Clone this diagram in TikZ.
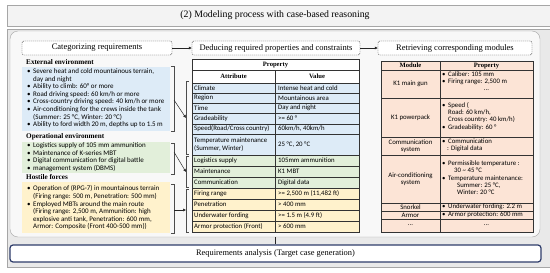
\documentclass[tikz,border=0pt]{standalone}
\usepackage{fontspec}
\setmainfont{Liberation Serif}
\newfontfamily\bodyf{Carlito}
\usetikzlibrary{arrows.meta}
\definecolor{frameg}{HTML}{A6A6A6}
\definecolor{panelg}{HTML}{E9E9E9}
\definecolor{innerg}{HTML}{F8F8F8}
\definecolor{titleg}{HTML}{F3F3F3}
\definecolor{bluef}{HTML}{DDEBF7}
\definecolor{greenf}{HTML}{E2EFDA}
\definecolor{yellowf}{HTML}{FFF2CC}
\definecolor{peachf}{HTML}{FCE4D6}
\definecolor{navy}{HTML}{2F3D6B}
\definecolor{tline}{HTML}{333333}
\newcommand\bl{\makebox[6pt][l]{•}}
\newcommand\ct{\hspace*{6pt}}
\newcommand\mrow[6]{%
 \filldraw[fill=#4,draw=tline,line width=0.4pt] (192,#2) rectangle (275,#3) (275,#2) rectangle (359,#3);
 \node[tcell] (ma#1) at (194,{(#2+#3)/2}) {#5};
 \node[tcell] (mv#1) at (278,{(#2+#3)/2}) {#6};}
\newcommand\rrow[4]{%
 \filldraw[fill=peachf,draw=tline,line width=0.4pt] (381,#2) rectangle (440,#3) (440,#2) rectangle (533,#3);
 \node[tcell,anchor=center,align=center] (rm#1) at (410.5,{(#2+#3)/2}) {#4};}
\begin{document}
\begin{tikzpicture}[x=1pt,y=-1pt,
 body/.style={font=\bodyf\fontsize{7}{7.6}\selectfont,inner sep=0pt,align=left,anchor=north west},
 tcell/.style={font=\bodyf\fontsize{6.8}{7.3}\selectfont,inner sep=0pt,align=left,anchor=west},
 thead/.style={font=\bfseries\fontsize{6.6}{7.5}\selectfont,inner sep=0pt},
 hdrbox/.style={draw=black!75,dash pattern=on 1.2pt off 0.8pt,rounded corners=2pt,fill=white,minimum height=14pt,font=\fontsize{8.5}{10}\selectfont,inner sep=0pt},
 grp/.style={font=\bfseries\fontsize{7.2}{8}\selectfont,anchor=west,inner sep=0pt},
 brk/.style={draw=black!70,line width=0.5pt},
 conn/.style={draw=black!85,line width=0.5pt,-{Latex[length=3pt,width=3pt]}}]
\useasboundingbox (0,0) rectangle (550,273);
\fill[white] (0,0) rectangle (550,273);
\begin{scope}
\clip (0,0) rectangle (550,273);
\draw[frameg,fill=titleg] (7,5) rectangle (560,26);
\draw[frameg,fill=panelg] (7,29) rectangle (560,267);
\end{scope}
\draw[frameg,fill=innerg,rounded corners=8pt] (10,31) rectangle (540,237);
\node[font=\fontsize{9.8}{11}\selectfont] (title) at (275,15.5) {(2) Modeling process with case-based reasoning};
% column headers
\node[hdrbox,minimum width=150pt] (h1) at (97,48) {Categorizing requirements};
\node[hdrbox,minimum width=168pt] (h2) at (276,48) {Deducing required properties and constraints};
\node[hdrbox,minimum width=154pt] (h3) at (455,48) {Retrieving corresponding modules};
\draw[conn] (h1) -- (h2);
\draw[conn] (h2) -- (h3);
% left column
\node[grp] (g1) at (26,62) {External environment};
\fill[bluef] (22,66.5) rectangle (170,131);
\node[body] (t1) at (27,68.5) {\bl Severe heat and cold mountainous terrain,\\ \ct day and night\\ \bl Ability to climb: 60° or more\\ \bl Road driving speed: 60 km/h or more\\ \bl Cross-country driving speed: 40 km/h or more\\ \bl Air-conditioning for the crews inside the tank\\ \ct (Summer: 25 °C, Winter: 20 °C)\\ \bl Ability to ford width 20 m, depths up to 1.5 m};
\node[grp] (g2) at (26,137) {Operational environment};
\fill[greenf] (22,141.5) rectangle (170,173);
\node[body] (t2) at (27,142.5) {\bl Logistics supply of 105 mm ammunition\\ \bl Maintenance of K-series MBT\\ \bl Digital communication for digital battle\\ \bl management system (DBMS)};
\node[grp] (g3) at (26,177) {Hostile forces};
\fill[yellowf] (22,182) rectangle (170,233);
\node[body] (t3) at (27,185.5) {\bl Operation of (RPG-7) in mountainous terrain\\ \ct (Firing range: 500 m, Penetration: 500 mm)\\ \bl Employed MBTs around the main route\\ \ct (Firing range: 2,500 m, Ammunition: high\\ \ct explosive anti tank, Penetration: 600 mm,\\ \ct Armor: Composite (Front 400-500 mm))};
% brackets
\draw[brk] (171,66)--(174,66)--(174,131)--(171,131);
\draw[brk] (171,143)--(174,143)--(174,174)--(171,174);
\draw[brk] (171,184)--(174,184)--(174,233)--(171,233);
\draw[brk] (189,81)--(186,81)--(186,154)--(189,154);
\draw[brk] (189,156)--(186,156)--(186,187)--(189,187);
\draw[brk] (189,189)--(186,189)--(186,232)--(189,232);
\coordinate (lb1) at (174,100);
\coordinate (rb1) at (186,118);
\coordinate (lb2) at (174,152);
\coordinate (rb2) at (186,172);
\coordinate (lb3) at (174,210);
\coordinate (rb3) at (186,210);
\draw[conn] (lb1) -- (rb1);
\draw[conn] (lb2) -- (rb2);
\draw[conn] (lb3) -- (rb3);
% middle table
\filldraw[fill=white,draw=tline,line width=0.4pt] (192,59) rectangle (359,70);
\filldraw[fill=white,draw=tline,line width=0.4pt] (192,70) rectangle (275,83) (275,70) rectangle (359,83);
\node[thead] (mp) at (275.5,64.7) {Property};
\node[thead] (mat) at (233.5,76.7) {Attribute};
\node[thead] (mva) at (317,76.7) {Value};
\mrow{1}{83}{93}{bluef}{Climate}{Intense heat and cold}
\mrow{2}{93}{103}{bluef}{Region}{Mountainous area}
\mrow{3}{103}{113}{bluef}{Time}{Day and night}
\mrow{4}{113}{124}{bluef}{Gradeability}{>= 60 °}
\mrow{5}{124}{134}{bluef}{Speed(Road/Cross country)}{60km/h, 40km/h}
\mrow{6}{134}{155}{bluef}{Temperature maintenance\\(Summer, Winter)}{25 °C, 20 °C}
\mrow{7}{155}{166}{greenf}{Logistics supply}{105mm ammunition}
\mrow{8}{166}{177}{greenf}{Maintenance}{K1 MBT}
\mrow{9}{177}{188}{greenf}{Communication}{Digital data}
\mrow{10}{188}{199}{yellowf}{Firing range}{>= 2,500 m (11,482 ft)}
\mrow{11}{199}{210}{yellowf}{Penetration}{> 400 mm}
\mrow{12}{210}{221}{yellowf}{Underwater fording}{>= 1.5 m (4.9 ft)}
\mrow{13}{221}{232}{yellowf}{Armor protection (Front)}{> 600 mm}
\draw[tline,line width=0.8pt] (192,59) rectangle (359,232);
% right table
\filldraw[fill=peachf,draw=tline,line width=0.4pt] (381,61) rectangle (440,70) (440,61) rectangle (533,70);
\node[thead] (rhm) at (410.5,65.7) {Module};
\node[thead] (rhp) at (486.5,65.7) {Property};
\rrow{1}{70}{98}{K1 main gun}
\rrow{2}{98}{137}{K1 powerpack}
\rrow{3}{137}{155}{Communication\\system}
\rrow{4}{155}{203}{Air-conditioning\\system}
\rrow{5}{203}{211}{Snorkel}
\rrow{6}{211}{219}{Armor}
\rrow{7}{219}{232}{...}
\node[body,font=\bodyf\fontsize{6.8}{7.2}\selectfont] (rp1) at (442,71.5) {\bl Caliber: 105 mm\\ \bl Firing range: 2,500 m};
\node[tcell,anchor=center] (rp1b) at (486.5,90.5) {...};
\node[body,font=\bodyf\fontsize{6.8}{7.4}\selectfont] (rp2) at (442,102) {\bl Speed (\\ \ct Road: 60 km/h,\\ \ct Cross country: 40 km/h)\\ \bl Gradeability: 60 °};
\node[body,font=\bodyf\fontsize{6.8}{7}\selectfont] (rp3) at (442,138.5) {\bl Communication\\ \hspace*{5pt}: Digital data};
\node[body,font=\bodyf\fontsize{6.8}{7.3}\selectfont] (rp4) at (442,160.5) {\bl Permissible temperature :\\ \hspace*{12pt}30 \textasciitilde{} 45 °C\\ \bl Temperature maintenance:\\ \hspace*{15pt}Summer: 25 °C,\\ \hspace*{15pt}Winter: 20 °C};
\node[tcell] (rp5) at (442,207) {\bl Underwater fording: 2.2 m};
\node[tcell] (rp6) at (442,215) {\bl Armor protection: 600 mm};
\node[tcell,anchor=center] (rp7) at (486.5,225.5) {...};
\draw[tline,line width=0.8pt] (381,61) rectangle (533,232);
% bottom
\node[draw=navy,line width=1.2pt,rounded corners=3pt,fill=white,minimum width=531pt,minimum height=17pt,inner sep=0pt,font=\fontsize{8.4}{10}\selectfont] (req) at (275.5,253.5) {Requirements analysis (Target case generation)};
\coordinate (pb) at (275.5,237);
\draw[black!85,line width=0.6pt] (pb) -- (req.north);
\end{tikzpicture}
\end{document}
